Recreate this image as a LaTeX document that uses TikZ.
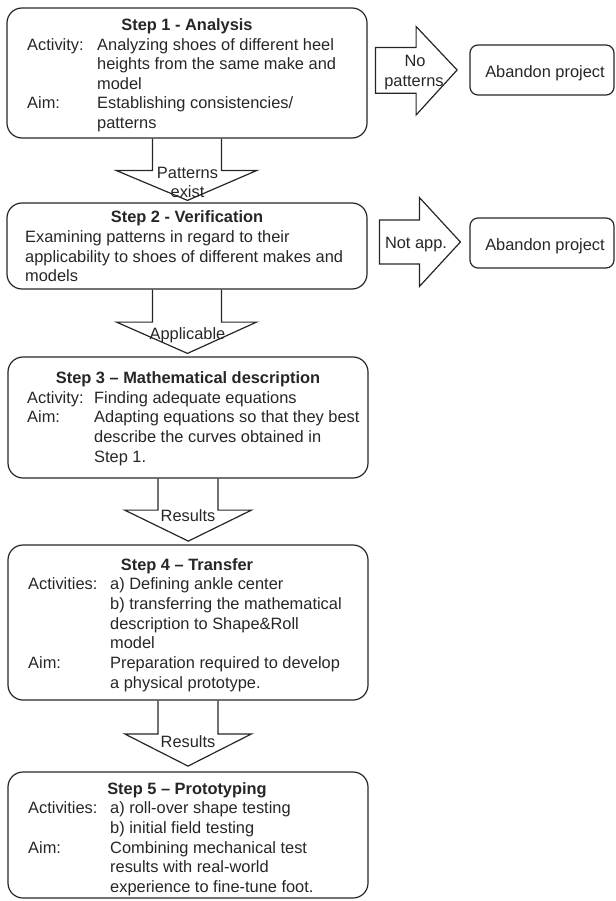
\documentclass[tikz,border=0pt]{standalone}
\usepackage{fontspec}
\setmainfont{Liberation Sans}
\usetikzlibrary{calc}
\begin{document}
\begin{tikzpicture}[x=1pt,y=-1pt,
  font=\fontsize{16.4}{19.7}\selectfont,
  stepbox/.style={draw=black!85, line width=1.2pt, rounded corners=15pt, inner sep=0pt, minimum width=360pt},
  endbox/.style={draw=black!85, line width=1.2pt, rounded corners=8pt, inner sep=0pt, minimum width=144pt, minimum height=50pt},
  blockarr/.style={draw=black!85, line width=1.2pt, line join=miter},
  txt/.style={inner sep=0pt, anchor=base west, text=black!85},
  ctxt/.style={inner sep=0pt, anchor=base, text=black!85},
  ttl/.style={ctxt, font=\fontsize{16.4}{19.7}\selectfont\bfseries}]
\useasboundingbox (0,0) rectangle (615,901);

% ---------- boxes ----------
\node[stepbox, minimum height=130pt] (s1) at (187,73) {};
\node[stepbox, minimum height=86pt]  (s2) at (187,246) {};
\node[stepbox, minimum height=121pt] (s3) at (188,417.5) {};
\node[stepbox, minimum height=155pt] (s4) at (188,622.5) {};
\node[stepbox, minimum height=126pt] (s5) at (188,835) {};
\node[endbox] (ab1) at (542,70) {};
\node[endbox] (ab2) at (542,243) {};

% ---------- box texts ----------
\node[ttl] (t1) at (187,31) {Step 1 - Analysis};
\node[txt] (t1a) at (27,50.5) {Activity:};
\node[txt] (t1b) at (97,50.5) {Analyzing shoes of different heel};
\node[txt] (t1c) at (97,70) {heights from the same make and};
\node[txt] (t1d) at (97,89.5) {model};
\node[txt] (t1e) at (27,109) {Aim:};
\node[txt] (t1f) at (97,109) {Establishing consistencies/};
\node[txt] (t1g) at (97,128.5) {patterns};

\node[ttl] (t2) at (187,222.7) {Step 2 - Verification};
\node[txt] (t2a) at (25,242.4) {Examining patterns in regard to their};
\node[txt] (t2b) at (25,262.1) {applicability to shoes of different makes and};
\node[txt] (t2c) at (25,281.8) {models};

\node[ttl] (t3) at (188,383.3) {Step 3 – Mathematical description};
\node[txt] (t3a) at (27,403) {Activity:};
\node[txt] (t3b) at (94,403) {Finding adequate equations};
\node[txt] (t3c) at (27,422.7) {Aim:};
\node[txt] (t3d) at (94,422.7) {Adapting equations so that they best};
\node[txt] (t3e) at (94,442.4) {describe the curves obtained in};
\node[txt] (t3f) at (94,462.1) {Step 1.};

\node[ttl] (t4) at (187,570) {Step 4 – Transfer};
\node[txt] (t4a) at (28,589.7) {Activities:};
\node[txt] (t4b) at (110,589.7) {a) Defining ankle center};
\node[txt] (t4c) at (110,609.4) {b) transferring the mathematical};
\node[txt] (t4d) at (110,629.1) {description to Shape\&Roll};
\node[txt] (t4e) at (110,648.8) {model};
\node[txt] (t4f) at (28,668.5) {Aim:};
\node[txt] (t4g) at (110,668.5) {Preparation required to develop};
\node[txt] (t4h) at (110,688.2) {a physical prototype.};

\node[ttl] (t5) at (187,794) {Step 5 – Prototyping};
\node[txt] (t5a) at (28,813.7) {Activities:};
\node[txt] (t5b) at (110,813.7) {a) roll-over shape testing};
\node[txt] (t5c) at (110,833.4) {b) initial field testing};
\node[txt] (t5d) at (28,853.1) {Aim:};
\node[txt] (t5e) at (110,853.1) {Combining mechanical test};
\node[txt] (t5f) at (110,872.8) {results with real-world};
\node[txt] (t5g) at (110,892.5) {experience to fine-tune foot.};

\node[ctxt] (ab1t) at (545,77.3) {Abandon project};
\node[ctxt] (ab2t) at (545,250) {Abandon project};

% ---------- down block arrows ----------
\draw[blockarr] ($(s1.south)+(-34.5,0)$) -- ($(s1.south)+(-34.5,32)$) -- ($(s1.south)+(-70.5,32)$)
  -- ($(s2.north)+(0.5,-2)$) -- ($(s1.south)+(69.5,32)$) -- ($(s1.south)+(34.5,32)$) -- ($(s1.south)+(34.5,0)$);
\draw[blockarr] ($(s2.south)+(-34.5,0)$) -- ($(s2.south)+(-34.5,32.5)$) -- ($(s2.south)+(-70.5,32.5)$)
  -- ($(s3.north)+(-0.5,-3)$) -- ($(s2.south)+(69.5,32.5)$) -- ($(s2.south)+(34.5,32.5)$) -- ($(s2.south)+(34.5,0)$);
\draw[blockarr] ($(s3.south)+(-30,0)$) -- ($(s3.south)+(-30,31.5)$) -- ($(s3.south)+(-63.3,31.5)$)
  -- ($(s4.north)+(0.3,-3.3)$) -- ($(s3.south)+(63.5,31.5)$) -- ($(s3.south)+(30,31.5)$) -- ($(s3.south)+(30,0)$);
\draw[blockarr] ($(s4.south)+(-30,0)$) -- ($(s4.south)+(-30,33.3)$) -- ($(s4.south)+(-63.3,33.3)$)
  -- ($(s5.north)+(0,-5.3)$) -- ($(s4.south)+(63.5,33.3)$) -- ($(s4.south)+(30,33.3)$) -- ($(s4.south)+(30,0)$);

\node[ctxt] (l1a) at (187.5,179) {Patterns};
\node[ctxt] (l1b) at (187.5,198) {exist};
\node[ctxt] (l2) at (187.5,339) {Applicable};
\node[ctxt] (l3) at (188,521.5) {Results};
\node[ctxt] (l4) at (188,747.3) {Results};

% ---------- right block arrows ----------
\draw[blockarr] ($(ab1.west)+(-94,-22.5)$) -- ($(ab1.west)+(-53.3,-22.5)$) -- ($(ab1.west)+(-53.3,-43.5)$)
  -- ($(ab1.west)+(-12.3,0)$) -- ($(ab1.west)+(-53.3,45)$) -- ($(ab1.west)+(-53.3,23.3)$)
  -- ($(ab1.west)+(-94,23.3)$) -- cycle;
\draw[blockarr] ($(ab2.west)+(-90,-23)$) -- ($(ab2.west)+(-50,-23)$) -- ($(ab2.west)+(-50,-45.5)$)
  -- ($(ab2.west)+(-9,-1)$) -- ($(ab2.west)+(-50,43.5)$) -- ($(ab2.west)+(-50,21)$)
  -- ($(ab2.west)+(-90,21)$) -- cycle;

\node[ctxt] (r1a) at (415,66.7) {No};
\node[ctxt] (r1b) at (414,86.7) {patterns};
\node[ctxt] (r2) at (416,248.3) {Not app.};
\end{tikzpicture}
\end{document}
